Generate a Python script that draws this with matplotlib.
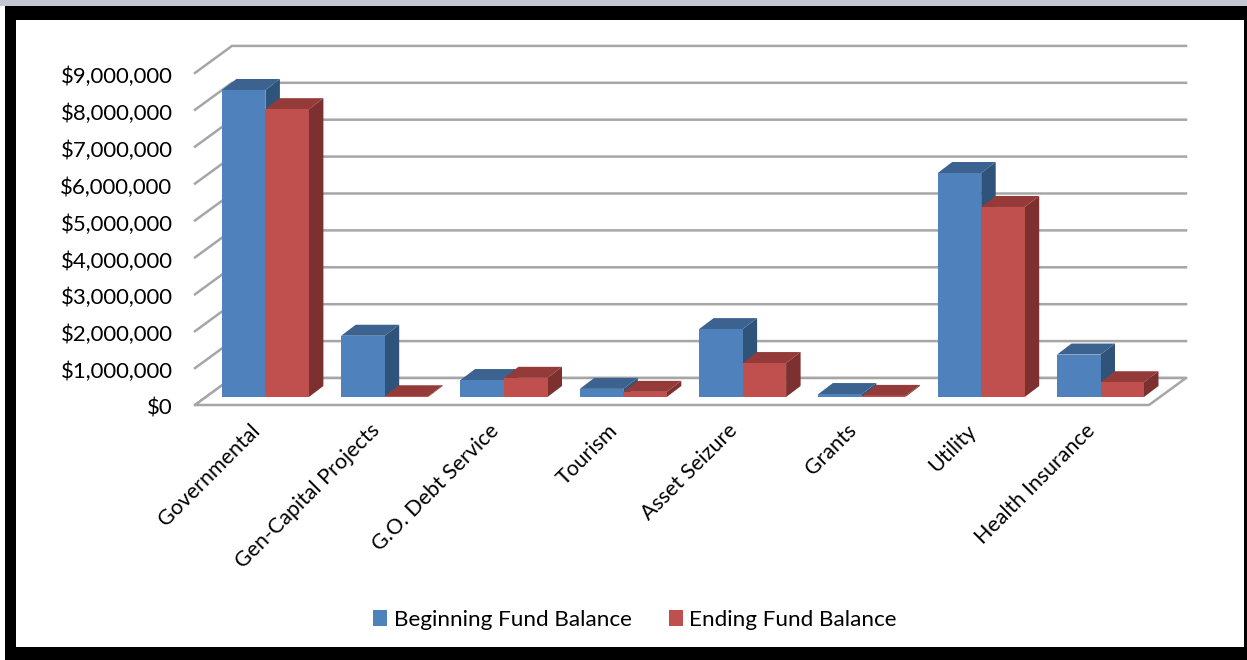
import matplotlib
matplotlib.use('Agg')
import matplotlib.pyplot as plt
from matplotlib.patches import Polygon, Patch, Rectangle

plt.rcParams['font.family'] = ['Lato', 'DejaVu Sans']

categories = ['Governmental', 'Gen-Capital Projects', 'G.O. Debt Service', 'Tourism',
              'Asset Seizure', 'Grants', 'Utility', 'Health Insurance']
beginning = [8320000, 1660000, 460000, 220000, 1840000, 80000, 6070000, 1150000]
ending = [7800000, 20000, 520000, 140000, 920000, 30000, 5150000, 400000]
ticks = [0, 1000000, 2000000, 3000000, 4000000, 5000000, 6000000, 7000000, 8000000, 9000000]

W, H = 1247, 660
# pixel geometry of the fake 3d
x0_px, step_px = 265.4, 119.3
y0_px, unit_px = 397, 36.9

fig = plt.figure(figsize=(W / 100, H / 100), dpi=100, facecolor='white')
ax = fig.add_axes([0, 0, 1, 1])
ax.set_xlim(-x0_px / step_px, (W - x0_px) / step_px)
ax.set_ylim((y0_px - H) / unit_px * 1e6, y0_px / unit_px * 1e6)
ax.axis('off')

bar_w = 43.5 / step_px
dep_x = 14.5 / step_px
dep_y = 11 / unit_px * 1e6
front_x = 37 / step_px
front_y = 27 / unit_px * 1e6
floor_y = (y0_px - 405) / unit_px * 1e6
left = (195 - x0_px) / step_px
right = (1149 - x0_px) / step_px

grid_c = '#a6a6a6'
# frame
frame = dict(transform=fig.transFigure, clip_on=False)
def px_rect(x, y, w, h, c, z):
    ax.add_patch(Rectangle((x / W, 1 - (y + h) / H), w / W, h / H, fc=c, ec='none', zorder=z, **frame))
px_rect(0, 0, W, 6, '#c3c8d0', 10)
px_rect(5, 6, W - 5, 14, 'black', 10)
px_rect(5, 6, 11, H - 6, 'black', 10)
px_rect(5, 647, W - 5, 13, 'black', 10)
px_rect(1244, 6, 3, H - 6, 'black', 10)

# walls and gridlines
for t in ticks:
    y = floor_y + t
    ax.plot([left, left + front_x, right + front_x], [y, y + front_y, y + front_y],
            color=grid_c, lw=1.8, zorder=1, solid_joinstyle='miter')
    ax.text(left - 22.5 / step_px, y - 4 / unit_px * 1e6, '${:,}'.format(t), ha='right', va='center',
            fontsize=15.9, color='black')
ax.add_patch(Polygon([(left, floor_y), (right, floor_y), (right + front_x, floor_y + front_y),
                      (left + front_x, floor_y + front_y)], closed=True,
                     fc='white', ec=grid_c, lw=1.8, zorder=1.5))


def bar3d(x, v, front, top, side, z):
    ax.add_patch(Polygon([(x + bar_w, 0), (x + bar_w + dep_x, dep_y), (x + bar_w + dep_x, v + dep_y),
                          (x + bar_w, v)], closed=True, fc=side, ec='none', zorder=z))
    ax.add_patch(Polygon([(x, v), (x + dep_x, v + dep_y), (x + bar_w + dep_x, v + dep_y),
                          (x + bar_w, v)], closed=True, fc=top, ec='none', zorder=z))
    ax.add_patch(Polygon([(x, 0), (x + bar_w, 0), (x + bar_w, v), (x, v)], closed=True,
                         fc=front, ec='none', zorder=z))


for i in range(len(categories)):
    bar3d(i - bar_w, beginning[i], '#4f81bd', '#3c6390', '#2f5379', 2 + i * 0.1)
    bar3d(i, ending[i], '#c0504d', '#943a38', '#7c302f', 2.05 + i * 0.1)
    ax.text(i - 0.13, floor_y - 0.42e6, categories[i], rotation=45, rotation_mode='anchor',
            ha='right', va='top', fontsize=15.4, color='black')

handles = [Patch(fc='#4f81bd', label='Beginning Fund Balance'),
           Patch(fc='#c0504d', label='Ending Fund Balance')]
ax.legend(handles=handles, ncol=2, loc='center', bbox_to_anchor=(635 / W, 1 - 620 / H),
          frameon=False, fontsize=16.2, handlelength=0.62, handleheight=0.68,
          handletextpad=0.28, columnspacing=1.65)

fig.savefig('out.png', dpi=100)
